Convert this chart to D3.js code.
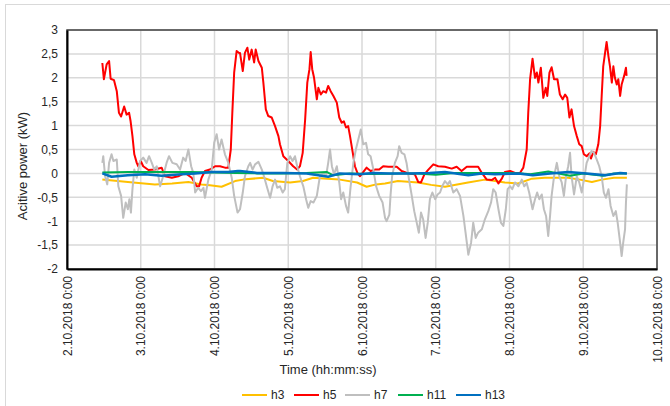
<!DOCTYPE html>
<html lang="en">
<head>
    <meta charset="UTF-8" />
    <title>Active power harmonics</title>
    <script src="https://d3js.org/d3.v7.min.js"></script>
    <style>
        html, body { margin: 0; padding: 0; background: #fff; }
        #chart { width: 670px; height: 406px; }
        text { font-family: "Liberation Sans", Arial, sans-serif; fill: #262626; }
    </style>
</head>
<body>
<div id="chart"></div>
<script>
    // --- Data: [hours since 2.10.2018 0:00, kW] ---
    const h3 = [
        [11.5, -0.13], [21.5, -0.19], [28.6, -0.23], [34.2, -0.21], [39.5, -0.18], [43.8, -0.23],
        [46.5, -0.25], [50.3, -0.28], [54.7, -0.16], [57.3, -0.13], [63.8, -0.09], [67.0, -0.16],
        [72.6, -0.19], [76.8, -0.16], [80.1, -0.09], [84.6, -0.11], [88.8, -0.13], [94.4, -0.19],
        [97.5, -0.28], [100.6, -0.23], [103.5, -0.21], [107.7, -0.16], [114.2, -0.19], [118.5, -0.24],
        [123.0, -0.28], [130.5, -0.19], [136.0, -0.13], [139.3, -0.16], [142.5, -0.19], [146.8, -0.21],
        [151.3, -0.11], [155.5, -0.09], [163.0, -0.09], [166.9, -0.13], [170.8, -0.18], [174.1, -0.13],
        [178.0, -0.09], [182.2, -0.09]
    ];

    const h5 = [
        [11.5, 2.31], [12.0, 1.97], [12.9, 2.28], [13.7, 2.35], [14.2, 1.98], [15.3, 1.95],
        [16.2, 1.72], [16.9, 1.27], [17.6, 1.19], [18.6, 1.40], [19.4, 1.23], [20.2, 1.27],
        [20.7, 1.09], [21.3, 0.78], [21.9, 0.40], [22.7, 0.22], [23.2, 0.15], [24.0, 0.26],
        [24.8, 0.15], [26.5, 0.07], [28.6, 0.08], [30.8, 0.12], [31.9, -0.06], [34.1, -0.09],
        [36.2, -0.06], [38.4, 0.01], [40.6, -0.09], [42.2, -0.27], [43.0, -0.27], [43.8, -0.09],
        [44.9, 0.05], [46.5, 0.08], [48.2, 0.15], [49.8, 0.15], [51.4, 0.12], [52.5, 0.12],
        [53.3, 0.50], [53.8, 1.27], [54.4, 2.11], [55.2, 2.56], [56.0, 2.52], [56.3, 2.52],
        [57.2, 2.14], [57.9, 2.52], [58.7, 2.63], [59.3, 2.38], [60.1, 2.59], [60.9, 2.32],
        [61.4, 2.59], [62.3, 2.35], [63.4, 2.21], [63.9, 1.90], [64.7, 1.34], [65.5, 1.20],
        [66.6, 1.17], [67.7, 0.99], [68.8, 0.78], [69.3, 0.61], [70.4, 0.36], [72.0, 0.26],
        [73.6, 0.15], [74.9, 0.08], [75.8, 0.15], [76.7, 0.43], [77.5, 1.13], [78.2, 1.90],
        [78.9, 2.18], [79.3, 2.54], [79.8, 2.18], [80.4, 2.00], [81.3, 1.55], [81.8, 1.79],
        [82.6, 1.65], [83.4, 1.72], [84.3, 1.69], [85.0, 1.83], [85.8, 1.72], [86.7, 1.62],
        [87.8, 1.48], [88.6, 1.17], [89.4, 1.06], [90.1, 1.09], [90.8, 0.96], [91.5, 0.99],
        [92.1, 0.78], [93.0, 0.43], [93.7, 0.15], [94.5, 0.01], [95.3, -0.06], [96.2, 0.01],
        [97.5, 0.12], [98.8, 0.05], [100.2, 0.08], [101.6, 0.08], [102.9, 0.15], [104.6, 0.14],
        [105.7, 0.14], [107.3, 0.14], [108.9, 0.05], [111.1, 0.00], [113.2, -0.02], [114.3, -0.18],
        [115.2, -0.19], [116.3, -0.02], [117.6, 0.08], [119.2, 0.19], [120.8, 0.15], [123.0, 0.14],
        [125.2, 0.10], [126.8, 0.14], [128.4, 0.05], [130.1, 0.14], [132.2, 0.14], [133.8, 0.14],
        [135.0, 0.01], [136.6, -0.13], [138.2, -0.14], [139.3, -0.09], [140.4, -0.21], [141.5, -0.11],
        [142.5, 0.03], [144.2, 0.05], [145.8, 0.01], [147.4, 0.01], [148.5, 0.12], [149.6, 0.50],
        [150.1, 1.27], [150.7, 1.97], [151.5, 2.40], [152.3, 2.00], [152.9, 2.11], [153.4, 1.90],
        [154.2, 2.21], [155.0, 1.58], [155.8, 1.79], [156.3, 1.62], [157.0, 2.11], [157.7, 2.22],
        [158.5, 1.97], [159.6, 1.97], [160.4, 1.65], [161.3, 1.55], [162.1, 1.65], [162.8, 1.58],
        [163.5, 1.17], [164.2, 1.34], [165.0, 0.99], [165.9, 0.78], [166.7, 0.61], [167.5, 0.57],
        [168.2, 0.40], [169.1, 0.36], [170.0, 0.42], [170.5, 0.31], [171.3, 0.45], [172.1, 0.40],
        [172.9, 0.61], [173.5, 0.99], [174.0, 1.62], [174.5, 2.24], [175.1, 2.52], [175.6, 2.75],
        [176.2, 2.45], [176.7, 2.24], [177.3, 1.90], [177.8, 2.24], [178.3, 2.00], [178.9, 1.86],
        [179.4, 1.97], [180.0, 1.62], [180.5, 1.86], [181.3, 2.04], [181.9, 2.21], [182.1, 2.04]
    ];

    const h7 = [
        [11.5, 0.22], [11.8, 0.36], [12.4, -0.06], [13.1, -0.23], [13.7, 0.22], [14.5, 0.40],
        [15.1, 0.26], [16.2, 0.29], [16.7, -0.27], [17.6, -0.47], [18.3, -0.93], [19.1, -0.61],
        [19.8, -0.75], [20.3, -0.54], [20.8, -0.82], [21.3, -0.33], [21.9, 0.08], [22.7, -0.09],
        [23.8, 0.26], [24.8, 0.33], [25.9, 0.22], [26.7, 0.36], [27.6, 0.22], [28.4, 0.08],
        [29.2, 0.15], [30.3, -0.27], [31.3, -0.06], [32.4, 0.22], [33.2, 0.36], [34.3, 0.22],
        [35.7, 0.19], [36.8, 0.08], [37.8, 0.33], [38.6, 0.26], [39.5, 0.50], [40.4, 0.15],
        [41.1, 0.01], [41.7, -0.40], [42.7, -0.30], [43.6, -0.37], [44.4, -0.30], [44.9, -0.51],
        [46.0, -0.13], [47.1, 0.08], [47.9, 0.64], [48.7, 0.82], [49.5, 0.50], [50.3, 0.71],
        [51.4, 0.40], [52.5, 0.22], [53.6, -0.09], [54.4, -0.47], [55.5, -0.82], [56.3, -0.75],
        [57.2, -0.40], [57.9, -0.06], [59.0, 0.15], [59.6, 0.22], [60.4, 0.08], [61.2, 0.19],
        [62.3, 0.24], [63.4, 0.08], [64.1, -0.06], [65.0, -0.27], [66.1, -0.51], [66.9, -0.27],
        [67.7, -0.13], [68.4, -0.30], [69.3, -0.27], [70.2, -0.40], [70.9, -0.33], [71.7, 0.22],
        [72.6, 0.36], [73.4, 0.26], [74.2, 0.36], [74.9, 0.15], [75.8, -0.06], [76.9, -0.27],
        [77.8, -0.54], [78.5, -0.72], [79.3, -0.58], [80.2, -0.61], [81.3, -0.47], [82.3, -0.06],
        [83.4, 0.01], [84.3, -0.06], [85.0, 0.22], [85.6, 0.50], [86.2, 0.15], [86.9, -0.02],
        [87.8, 0.15], [88.6, -0.19], [89.2, -0.54], [89.9, -0.40], [90.8, -0.68], [91.5, -0.82],
        [92.3, -0.27], [93.2, 0.22], [94.0, 0.50], [94.8, 0.71], [95.6, 0.92], [96.4, 0.61],
        [97.3, 0.64], [98.0, 0.40], [98.8, 0.36], [99.7, 0.08], [100.6, -0.27], [101.6, -0.47],
        [102.7, -0.61], [103.5, -0.93], [104.0, -1.00], [104.9, -0.86], [105.3, -0.45], [105.8, -0.06],
        [106.7, 0.22], [107.6, 0.36], [108.1, 0.57], [108.9, 0.43], [109.8, 0.40], [110.5, 0.22],
        [111.3, -0.13], [112.2, -0.47], [113.0, -0.79], [113.8, -1.03], [114.5, -1.24], [115.2, -0.82],
        [115.9, -0.96], [116.7, -1.35], [117.4, -1.03], [118.1, -0.54], [118.9, -0.40], [119.8, -0.54],
        [120.6, -0.44], [121.4, -0.40], [122.1, -0.27], [123.0, -0.16], [123.9, -0.23], [124.6, -0.16],
        [125.7, -0.40], [126.8, -0.33], [127.9, -0.47], [129.0, -0.89], [129.7, -1.24], [130.6, -1.70],
        [131.5, -1.45], [132.2, -1.03], [133.0, -1.35], [133.8, -1.24], [135.0, -1.17], [136.0, -0.96],
        [137.1, -0.79], [138.0, -0.61], [138.7, -0.33], [139.5, -0.40], [140.4, -0.75], [141.2, -1.03],
        [142.0, -1.10], [142.8, -0.75], [143.4, -0.33], [144.2, -0.27], [144.9, -0.33], [145.8, -0.19],
        [146.9, -0.27], [148.0, -0.13], [148.8, -0.27], [149.6, -0.20], [150.4, -0.40], [151.5, -0.75],
        [152.3, -0.54], [153.0, -0.40], [153.7, -0.54], [154.5, -0.44], [155.2, -0.75], [155.9, -0.89],
        [156.6, -1.31], [157.2, -0.89], [157.7, -0.47], [158.5, -0.06], [159.4, 0.22], [160.2, -0.06],
        [161.0, -0.19], [161.7, -0.47], [162.4, -0.06], [163.1, 0.15], [163.7, 0.43], [164.2, -0.06],
        [165.0, -0.44], [165.9, -0.06], [166.7, -0.19], [167.5, -0.40], [168.6, 0.01], [169.1, 0.22],
        [170.0, 0.36], [170.7, 0.47], [171.5, 0.43], [172.4, 0.29], [173.2, 0.15], [174.0, -0.06],
        [174.7, -0.40], [175.4, -0.51], [176.2, -0.33], [176.9, -0.68], [177.8, -0.89], [178.6, -0.79],
        [179.2, -1.03], [180.0, -1.45], [180.5, -1.73], [181.0, -1.45], [181.6, -1.17], [181.9, -0.61],
        [182.2, -0.23]
    ];

    const h11 = [
        [11.5, 0.02], [20.0, 0.03], [30.0, 0.03], [40.0, 0.03], [48.0, 0.02], [55.0, 0.01],
        [62.0, 0.00], [70.0, 0.00], [78.0, 0.01], [84.5, 0.03], [86.6, -0.04], [92.0, 0.00],
        [100.0, -0.01], [108.0, 0.00], [114.0, 0.00], [120.0, -0.03], [126.0, 0.01], [134.0, 0.01],
        [142.0, 0.01], [148.0, 0.00], [150.8, -0.02], [156.6, 0.04], [160.0, 0.00], [163.7, -0.05],
        [168.0, 0.00], [174.4, -0.05], [178.0, 0.00], [182.2, 0.00]
    ];

    const h13 = [
        [11.5, 0.00], [14.5, -0.07], [19.8, -0.04], [25.4, -0.02], [30.8, -0.05], [37.3, -0.02],
        [41.7, 0.00], [47.1, 0.03], [52.4, 0.03], [55.6, 0.05], [56.3, 0.05], [61.8, 0.01],
        [70.3, 0.01], [78.0, 0.00], [85.0, -0.07], [88.8, 0.00], [95.3, -0.02], [99.6, 0.01],
        [104.8, 0.00], [112.0, 0.00], [118.0, 0.01], [123.0, 0.03], [130.6, -0.04], [135.0, 0.00],
        [139.3, -0.02], [146.9, 0.00], [151.6, -0.04], [157.2, 0.00], [163.1, 0.03], [169.1, 0.00],
        [175.1, -0.04], [180.0, 0.01], [182.2, 0.00]
    ];

    const seriesNames = ["h3", "h5", "h7", "h11", "h13"];
    const seriesData = [h3, h5, h7, h11, h13];
    const seriesColors = ["#FFC000", "#FF0000", "#BFBFBF", "#00B050", "#0070C0"];
    const yTicks = [-2, -1.5, -1, -0.5, 0, 0.5, 1, 1.5, 2, 2.5, 3];

    const startDate = new Date(2018, 9, 2);
    const endDate = new Date(2018, 9, 10);
    const toDate = h => new Date(startDate.getTime() + h * 3600 * 1000);

    // --- Layout ---
    const W = 670, H = 406;
    const plot = { left: 67, right: 657, top: 30, bottom: 269 };

    const svg = d3.select("#chart").append("svg")
        .attr("width", W)
        .attr("height", H);

    // outer chart frame
    svg.append("rect")
        .attr("x", 5.5).attr("y", 4.5)
        .attr("width", 720).attr("height", 440)
        .attr("fill", "#fff")
        .attr("stroke", "#D9D9D9");

    const x = d3.scaleTime().domain([startDate, endDate]).range([plot.left, plot.right]);
    const y = d3.scaleLinear().domain([-2, 3]).range([plot.bottom, plot.top]);

    const days = d3.timeDay.range(startDate, d3.timeDay.offset(endDate, 1));

    // gridlines
    const grid = svg.append("g");
    grid.selectAll("line.h").data(yTicks).enter().append("line")
        .attr("x1", plot.left).attr("x2", plot.right)
        .attr("y1", d => y(d)).attr("y2", d => y(d))
        .attr("stroke", "#D9D9D9").attr("stroke-width", 1.5);
    grid.selectAll("line.v").data(days).enter().append("line")
        .attr("x1", d => x(d)).attr("x2", d => x(d))
        .attr("y1", plot.top).attr("y2", plot.bottom)
        .attr("stroke", "#D9D9D9").attr("stroke-width", 1.5);

    // series
    const line = d3.line()
        .x(d => x(toDate(d[0])))
        .y(d => y(d[1]));

    const lines = svg.append("g");
    seriesData.forEach((data, i) => {
        lines.append("path")
            .datum(data)
            .attr("fill", "none")
            .attr("stroke", seriesColors[i])
            .attr("stroke-width", i === 4 ? 2.5 : 2)
            .attr("stroke-linejoin", "round")
            .attr("d", line);
    });

    // plot frame
    svg.append("rect")
        .attr("x", plot.left).attr("y", plot.top)
        .attr("width", plot.right - plot.left)
        .attr("height", plot.bottom - plot.top)
        .attr("fill", "none")
        .attr("stroke", "#404040")
        .attr("stroke-width", 1.5);

    // axes
    const fmtNum = d3.format(",");
    const yAxis = svg.append("g")
        .attr("transform", `translate(${plot.left},0)`)
        .call(d3.axisLeft(y).tickValues(yTicks).tickSize(0).tickPadding(9)
            .tickFormat(d => String(d).replace(".", ",")));
    yAxis.select(".domain").attr("stroke", "#000").attr("stroke-width", 2);
    yAxis.selectAll("text")
        .attr("font-size", "12px")
        .attr("font-family", "Liberation Sans, Arial, sans-serif")
        .attr("fill", "#262626");

    const xAxis = svg.append("g")
        .attr("transform", `translate(0,${plot.bottom})`)
        .call(d3.axisBottom(x).tickValues(days).tickSize(0)
            .tickFormat(d3.timeFormat("%-d.%m.%Y %-H:%M")));
    xAxis.select(".domain").attr("stroke", "#000").attr("stroke-width", 2);
    xAxis.selectAll("text")
        .attr("font-size", "12px")
        .attr("font-family", "Liberation Sans, Arial, sans-serif")
        .attr("fill", "#262626")
        .attr("text-anchor", "end")
        .attr("transform", "rotate(-90)")
        .attr("x", -7)
        .attr("y", 0)
        .attr("dy", "0.35em");

    // axis titles
    svg.append("text")
        .attr("x", 328).attr("y", 374)
        .attr("text-anchor", "middle")
        .attr("font-size", "13px")
        .text("Time (hh:mm:ss)");

    svg.append("text")
        .attr("transform", "translate(27,166) rotate(-90)")
        .attr("text-anchor", "middle")
        .attr("font-size", "13px")
        .text("Acitive power (kW)");

    // legend
    const legendX = [242, 294, 345, 398, 456];
    const legend = svg.append("g").attr("transform", "translate(0,395)");
    seriesNames.forEach((name, i) => {
        const g = legend.append("g").attr("transform", `translate(${legendX[i]},0)`);
        g.append("line")
            .attr("x1", 0).attr("x2", 25)
            .attr("stroke", seriesColors[i])
            .attr("stroke-width", 2);
        g.append("text")
            .attr("x", 29).attr("dy", "0.35em")
            .attr("font-size", "12px")
            .text(name);
    });
</script>
</body>
</html>
